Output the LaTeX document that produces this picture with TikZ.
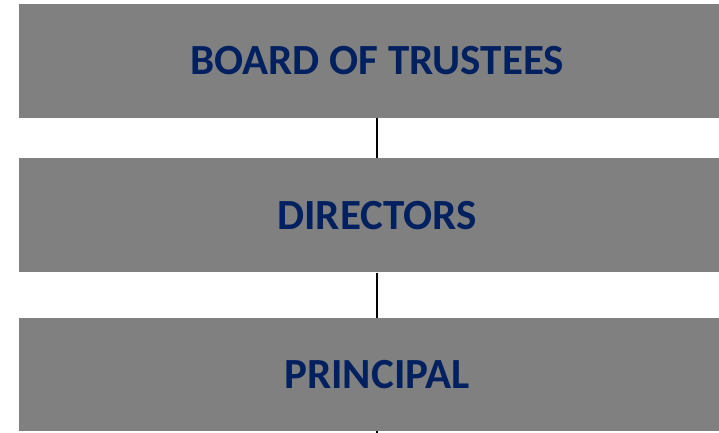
\documentclass[tikz,border=0pt]{standalone}
\usepackage{fontspec}
\setmainfont{Carlito}
\usepackage{xcolor}
\usetikzlibrary{positioning}
\definecolor{boxgray}{HTML}{808080}
\definecolor{navy}{HTML}{002060}
\tikzset{level/.style={fill=boxgray,draw=none,minimum width=716pt,minimum height=114pt,
   inner sep=0pt,text=navy,font=\fontsize{43}{50}\selectfont\bfseries},
 link/.style={draw=black,line width=2pt},
 }
\begin{document}
\begin{tikzpicture}[x=1pt,y=1pt]
        \useasboundingbox (0,0) rectangle (719,-432);
        \clip (0,0) rectangle (719,-432);
        \node [level] (board) at (377,-61) {BOARD OF TRUSTEES};
        \node [level, below=40pt of board] (directors) {DIRECTORS};
        \node [level, minimum height=113pt, below=45pt of directors] (principal) {PRINCIPAL};
        \coordinate [below=20pt of principal] (down);
        \draw [link] (board) -- (directors);
        \draw [link] (directors) -- (principal);
        \draw [link] (principal) -- (down);
    \end{tikzpicture}
\end{document}
